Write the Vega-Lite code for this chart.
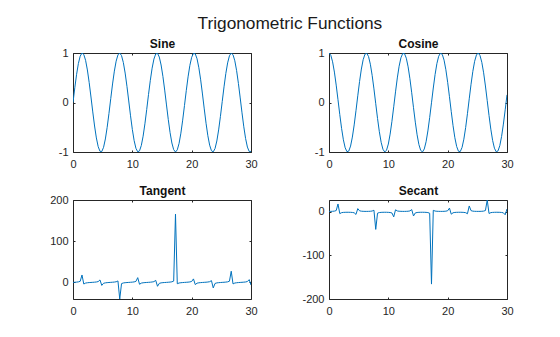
{
"$schema":"https://vega.github.io/schema/vega-lite/v6.json",
"autosize":{"type":"none"},
"padding":{"left":73,"top":53,"right":487,"bottom":284},
"background":"white",
"title":{"text":"Trigonometric Functions","font":"Liberation Sans","fontSize":17.3,"fontWeight":"normal","color":"#1a1a1a","anchor":"middle","offset":5,"dx":8.5},
"datasets":{"trig":[
{"x":0,"sin":0,"cos":1,"tan":0,"sec":1},
{"x":0.303,"sin":0.29841,"cos":0.95444,"tan":0.3127,"sec":1.0477},
{"x":0.6061,"sin":0.56963,"cos":0.8219,"tan":0.6931,"sec":1.2167},
{"x":0.9091,"sin":0.78894,"cos":0.61447,"tan":1.2839,"sec":1.6274},
{"x":1.2121,"sin":0.93636,"cos":0.35104,"tan":2.6674,"sec":2.8487},
{"x":1.5152,"sin":0.99845,"cos":0.05562,"tan":17.953,"sec":17.981},
{"x":1.8182,"sin":0.96956,"cos":-0.24487,"tan":-3.9595,"sec":-4.0838},
{"x":2.1212,"sin":0.85231,"cos":-0.52304,"tan":-1.6295,"sec":-1.9119},
{"x":2.4242,"sin":0.65739,"cos":-0.75355,"tan":-0.8724,"sec":-1.3271},
{"x":2.7273,"sin":0.40256,"cos":-0.91539,"tan":-0.4398,"sec":-1.0924},
{"x":3.0303,"sin":0.11106,"cos":-0.99381,"tan":-0.1118,"sec":-1.0062},
{"x":3.3333,"sin":-0.19057,"cos":-0.98167,"tan":0.1941,"sec":-1.0187},
{"x":3.6364,"sin":-0.47483,"cos":-0.88008,"tan":0.5395,"sec":-1.1363},
{"x":3.9394,"sin":-0.71582,"cos":-0.69828,"tan":1.0251,"sec":-1.4321},
{"x":4.2424,"sin":-0.89159,"cos":-0.45285,"tan":1.9688,"sec":-2.2082},
{"x":4.5455,"sin":-0.9861,"cos":-0.16616,"tan":5.9347,"sec":-6.0183},
{"x":4.8485,"sin":-0.99075,"cos":0.13568,"tan":-7.3023,"sec":7.3703},
{"x":5.1515,"sin":-0.90512,"cos":0.42515,"tan":-2.129,"sec":2.3521},
{"x":5.4545,"sin":-0.73701,"cos":0.67588,"tan":-1.0904,"sec":1.4796},
{"x":5.7576,"sin":-0.50173,"cos":0.86502,"tan":-0.58,"sec":1.156},
{"x":6.0606,"sin":-0.22075,"cos":0.97533,"tan":-0.2263,"sec":1.0253},
{"x":6.3636,"sin":0.08037,"cos":0.99677,"tan":0.0806,"sec":1.0032},
{"x":6.6667,"sin":0.37415,"cos":0.92737,"tan":0.4035,"sec":1.0783},
{"x":6.9697,"sin":0.63384,"cos":0.77346,"tan":0.8195,"sec":1.2929},
{"x":7.2727,"sin":0.83578,"cos":0.54907,"tan":1.5222,"sec":1.8213},
{"x":7.5758,"sin":0.96154,"cos":0.27465,"tan":3.501,"sec":3.641},
{"x":7.8788,"sin":0.99969,"cos":-0.0248,"tan":-40.304,"sec":-40.317},
{"x":8.1818,"sin":0.94674,"cos":-0.322,"tan":-2.9402,"sec":-3.1056},
{"x":8.4848,"sin":0.80752,"cos":-0.58984,"tan":-1.3691,"sec":-1.6954},
{"x":8.7879,"sin":0.59471,"cos":-0.80394,"tan":-0.7397,"sec":-1.2439},
{"x":9.0909,"sin":0.32772,"cos":-0.94478,"tan":-0.3469,"sec":-1.0584},
{"x":9.3939,"sin":0.03083,"cos":-0.99952,"tan":-0.0308,"sec":-1.0005},
{"x":9.697,"sin":-0.26884,"cos":-0.96318,"tan":0.2791,"sec":-1.0382},
{"x":10,"sin":-0.54402,"cos":-0.83907,"tan":0.6484,"sec":-1.1918},
{"x":10.303,"sin":-0.76963,"cos":-0.63849,"tan":1.2054,"sec":-1.5662},
{"x":10.6061,"sin":-0.9251,"cos":-0.37973,"tan":2.4362,"sec":-2.6335},
{"x":10.9091,"sin":-0.99626,"cos":-0.08638,"tan":11.534,"sec":-11.577},
{"x":11.2121,"sin":-0.97665,"cos":0.21486,"tan":-4.5455,"sec":4.6542},
{"x":11.5152,"sin":-0.86803,"cos":0.49651,"tan":-1.7483,"sec":2.0141},
{"x":11.8182,"sin":-0.68031,"cos":0.73292,"tan":-0.9282,"sec":1.3644},
{"x":12.1212,"sin":-0.43061,"cos":0.90254,"tan":-0.4771,"sec":1.108},
{"x":12.4242,"sin":-0.14165,"cos":0.98992,"tan":-0.1431,"sec":1.0102},
{"x":12.7273,"sin":0.16021,"cos":0.98708,"tan":0.1623,"sec":1.0131},
{"x":13.0303,"sin":0.44747,"cos":0.8943,"tan":0.5004,"sec":1.1182},
{"x":13.3333,"sin":0.69395,"cos":0.72002,"tan":0.9638,"sec":1.3889},
{"x":13.6364,"sin":0.8772,"cos":0.48013,"tan":1.827,"sec":2.0828},
{"x":13.9394,"sin":0.98051,"cos":0.19649,"tan":4.9902,"sec":5.0893},
{"x":14.2424,"sin":0.99447,"cos":-0.10506,"tan":-9.4657,"sec":-9.5183},
{"x":14.5455,"sin":0.9178,"cos":-0.39704,"tan":-2.3116,"sec":-2.5186},
{"x":14.8485,"sin":0.7575,"cos":-0.65283,"tan":-1.1603,"sec":-1.5318},
{"x":15.1515,"sin":0.52817,"cos":-0.84914,"tan":-0.622,"sec":-1.1777},
{"x":15.4545,"sin":0.25072,"cos":-0.96806,"tan":-0.259,"sec":-1.033},
{"x":15.7576,"sin":-0.04959,"cos":-0.99877,"tan":0.0497,"sec":-1.0012},
{"x":16.0606,"sin":-0.34538,"cos":-0.93846,"tan":0.368,"sec":-1.0656},
{"x":16.3636,"sin":-0.60969,"cos":-0.79264,"tan":0.7692,"sec":-1.2616},
{"x":16.6667,"sin":-0.81845,"cos":-0.57458,"tan":1.4244,"sec":-1.7404},
{"x":16.9697,"sin":-0.95262,"cos":-0.30416,"tan":3.132,"sec":-3.2878},
{"x":17.2727,"sin":-0.99998,"cos":-0.00603,"tan":165.77,"sec":-165.77},
{"x":17.5758,"sin":-0.95622,"cos":0.29265,"tan":-3.2675,"sec":3.417},
{"x":17.8788,"sin":-0.82532,"cos":0.56467,"tan":-1.4616,"sec":1.7709},
{"x":18.1818,"sin":-0.61921,"cos":0.78523,"tan":-0.7886,"sec":1.2735},
{"x":18.4848,"sin":-0.35668,"cos":0.93423,"tan":-0.3818,"sec":1.0704},
{"x":18.7879,"sin":-0.06164,"cos":0.9981,"tan":-0.0618,"sec":1.0019},
{"x":19.0909,"sin":0.23902,"cos":0.97102,"tan":0.2462,"sec":1.0298},
{"x":19.3939,"sin":0.51789,"cos":0.85544,"tan":0.6054,"sec":1.169},
{"x":19.697,"sin":0.74957,"cos":0.66192,"tan":1.1324,"sec":1.5108},
{"x":20,"sin":0.91295,"cos":0.40808,"tan":2.2372,"sec":2.4505},
{"x":20.303,"sin":0.99313,"cos":0.11705,"tan":8.4846,"sec":8.5434},
{"x":20.6061,"sin":0.98281,"cos":-0.18464,"tan":-5.3228,"sec":-5.4159},
{"x":20.9091,"sin":0.88293,"cos":-0.46951,"tan":-1.8805,"sec":-2.1299},
{"x":21.2121,"sin":0.70259,"cos":-0.7116,"tan":-0.9873,"sec":-1.4053},
{"x":21.5152,"sin":0.45822,"cos":-0.88884,"tan":-0.5155,"sec":-1.1251},
{"x":21.8182,"sin":0.17211,"cos":-0.98508,"tan":-0.1747,"sec":-1.0151},
{"x":22.1212,"sin":-0.1297,"cos":-0.99155,"tan":0.1308,"sec":-1.0085},
{"x":22.4242,"sin":-0.41968,"cos":-0.90767,"tan":0.4624,"sec":-1.1017},
{"x":22.7273,"sin":-0.67142,"cos":-0.74108,"tan":0.906,"sec":-1.3494},
{"x":23.0303,"sin":-0.86198,"cos":-0.50694,"tan":1.7004,"sec":-1.9726},
{"x":23.3333,"sin":-0.97398,"cos":-0.22663,"tan":4.2977,"sec":-4.4125},
{"x":23.6364,"sin":-0.99723,"cos":0.07435,"tan":-13.413,"sec":13.45},
{"x":23.9394,"sin":-0.92961,"cos":0.36855,"tan":-2.5223,"sec":2.7133},
{"x":24.2424,"sin":-0.77727,"cos":0.62917,"tan":-1.2354,"sec":1.5894},
{"x":24.5455,"sin":-0.5541,"cos":0.83245,"tan":-0.6656,"sec":1.2013},
{"x":24.8485,"sin":-0.28045,"cos":0.95987,"tan":-0.2922,"sec":1.0418},
{"x":25.1515,"sin":0.01877,"cos":0.99982,"tan":0.0188,"sec":1.0002},
{"x":25.4545,"sin":0.31628,"cos":0.94867,"tan":0.3334,"sec":1.0541},
{"x":25.7576,"sin":0.58496,"cos":0.81106,"tan":0.7212,"sec":1.233},
{"x":26.0606,"sin":0.80034,"cos":0.59954,"tan":1.3349,"sec":1.6679},
{"x":26.3636,"sin":0.94278,"cos":0.33341,"tan":2.8277,"sec":2.9993},
{"x":26.6667,"sin":0.99932,"cos":0.03686,"tan":27.109,"sec":27.128},
{"x":26.9697,"sin":0.96479,"cos":-0.26303,"tan":-3.668,"sec":-3.8019},
{"x":27.2727,"sin":0.84234,"cos":-0.53895,"tan":-1.5629,"sec":-1.8555},
{"x":27.5758,"sin":0.64312,"cos":-0.76576,"tan":-0.8398,"sec":-1.3059},
{"x":27.8788,"sin":0.38531,"cos":-0.92279,"tan":-0.4175,"sec":-1.0837},
{"x":28.1818,"sin":0.09238,"cos":-0.99572,"tan":-0.0928,"sec":-1.0043},
{"x":28.4848,"sin":-0.20896,"cos":-0.97792,"tan":0.2137,"sec":-1.0226},
{"x":28.7879,"sin":-0.49127,"cos":-0.87101,"tan":0.564,"sec":-1.1481},
{"x":29.0909,"sin":-0.72881,"cos":-0.68472,"tan":1.0644,"sec":-1.4604},
{"x":29.3939,"sin":-0.89993,"cos":-0.43604,"tan":2.0639,"sec":-2.2934},
{"x":29.697,"sin":-0.98905,"cos":-0.14762,"tan":6.7,"sec":-6.7742},
{"x":30,"sin":-0.98803,"cos":0.15425,"tan":-6.4053,"sec":6.483}
]},
"data":{"name":"trig"},
"bounds":"flush",
"columns":2,
"spacing":{"row":48,"column":78},
"concat":[
 {"width":178,"height":99,
  "layer":[
   {"mark":{"type":"line","color":"#0072BD","strokeWidth":1,"clip":true},
    "encoding":{
     "x":{"field":"x","type":"quantitative","scale":{"domain":[0,30],"nice":false,"zero":false},"axis":{"orient":"bottom","values":[0,10,20,30],"title":null}},
     "y":{"field":"sin","type":"quantitative","scale":{"domain":[-1,1],"nice":false,"zero":false},"axis":{"orient":"left","values":[-1,0,1],"title":null}}}},
   {"mark":{"type":"line","color":"#0072BD","strokeOpacity":0,"clip":true},
    "encoding":{
     "x":{"field":"x","type":"quantitative","axis":{"orient":"top","values":[0,10,20,30],"labels":false,"title":"Sine"}},
     "y":{"field":"sin","type":"quantitative","axis":{"orient":"right","values":[-1,0,1],"labels":false,"title":null}}}}
  ],
  "resolve":{"axis":{"x":"independent","y":"independent"}}},
 {"width":178,"height":99,
  "layer":[
   {"mark":{"type":"line","color":"#0072BD","strokeWidth":1,"clip":true},
    "encoding":{
     "x":{"field":"x","type":"quantitative","scale":{"domain":[0,30],"nice":false,"zero":false},"axis":{"orient":"bottom","values":[0,10,20,30],"title":null}},
     "y":{"field":"cos","type":"quantitative","scale":{"domain":[-1,1],"nice":false,"zero":false},"axis":{"orient":"left","values":[-1,0,1],"title":null}}}},
   {"mark":{"type":"line","color":"#0072BD","strokeOpacity":0,"clip":true},
    "encoding":{
     "x":{"field":"x","type":"quantitative","axis":{"orient":"top","values":[0,10,20,30],"labels":false,"title":"Cosine"}},
     "y":{"field":"cos","type":"quantitative","axis":{"orient":"right","values":[-1,0,1],"labels":false,"title":null}}}}
  ],
  "resolve":{"axis":{"x":"independent","y":"independent"}}},
 {"width":178,"height":99,
  "layer":[
   {"mark":{"type":"line","color":"#0072BD","strokeWidth":1,"clip":true},
    "encoding":{
     "x":{"field":"x","type":"quantitative","scale":{"domain":[0,30],"nice":false,"zero":false},"axis":{"orient":"bottom","values":[0,10,20,30],"title":null}},
     "y":{"field":"tan","type":"quantitative","scale":{"domain":[-40.304,200],"nice":false,"zero":false},"axis":{"orient":"left","values":[0,100,200],"title":null}}}},
   {"mark":{"type":"line","color":"#0072BD","strokeOpacity":0,"clip":true},
    "encoding":{
     "x":{"field":"x","type":"quantitative","axis":{"orient":"top","values":[0,10,20,30],"labels":false,"title":"Tangent"}},
     "y":{"field":"tan","type":"quantitative","axis":{"orient":"right","values":[0,100,200],"labels":false,"title":null}}}}
  ],
  "resolve":{"axis":{"x":"independent","y":"independent"}}},
 {"width":178,"height":99,
  "layer":[
   {"mark":{"type":"line","color":"#0072BD","strokeWidth":1,"clip":true},
    "encoding":{
     "x":{"field":"x","type":"quantitative","scale":{"domain":[0,30],"nice":false,"zero":false},"axis":{"orient":"bottom","values":[0,10,20,30],"title":null}},
     "y":{"field":"sec","type":"quantitative","scale":{"domain":[-200,27.128],"nice":false,"zero":false},"axis":{"orient":"left","values":[-200,-100,0],"title":null}}}},
   {"mark":{"type":"line","color":"#0072BD","strokeOpacity":0,"clip":true},
    "encoding":{
     "x":{"field":"x","type":"quantitative","axis":{"orient":"top","values":[0,10,20,30],"labels":false,"title":"Secant"}},
     "y":{"field":"sec","type":"quantitative","axis":{"orient":"right","values":[-200,-100,0],"labels":false,"title":null}}}}
  ],
  "resolve":{"axis":{"x":"independent","y":"independent"}}}
],
"config":{
 "view":{"stroke":"#262626","strokeWidth":1},
 "axis":{"domain":false,"grid":false,"ticks":true,"tickSize":-2,"tickColor":"#262626","labelFont":"Liberation Sans","labelFontSize":11,"labelColor":"#262626","labelFlush":false,"labelOverlap":false,"labelExpr":"'' + datum.value","titleFont":"Liberation Sans","titleFontSize":12,"titleFontWeight":"bold","titleColor":"#111111","titlePadding":2},
 "axisX":{"labelPadding":8},
 "axisY":{"labelPadding":7}
}
}
